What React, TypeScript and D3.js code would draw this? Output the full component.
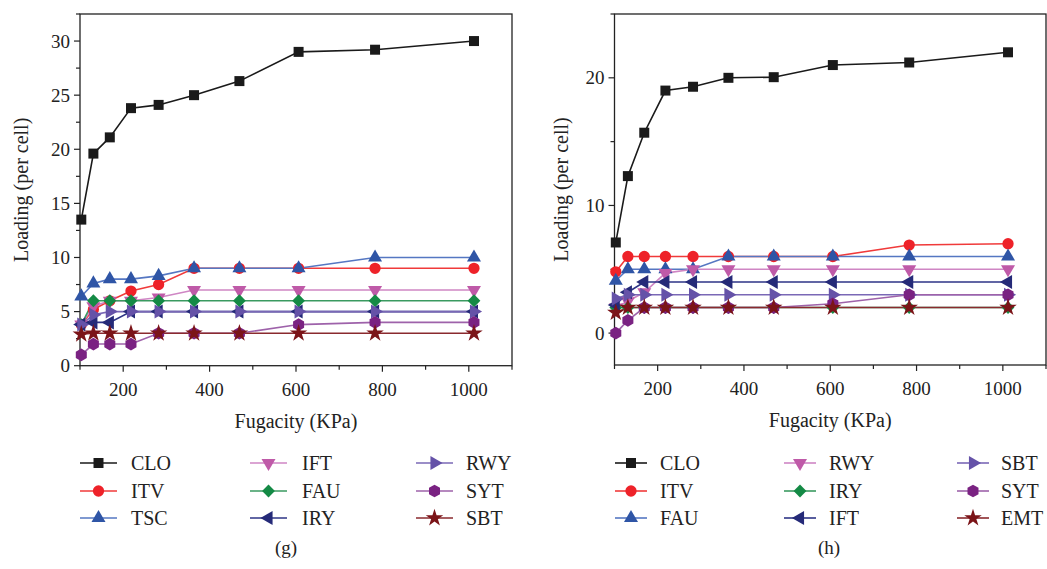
import React from "react";
import * as d3 from "d3";

const fugacity = [103, 131, 169, 218, 282, 364, 469, 606, 783, 1012];

// Panel (g)
const gCLO = [13.5, 19.6, 21.1, 23.8, 24.1, 25.0, 26.3, 29.0, 29.2, 30.0];
const gITV = [3.8, 5.2, 6.0, 6.9, 7.5, 9, 9, 9, 9, 9];
const gTSC = [6.4, 7.6, 8.0, 8.0, 8.3, 9, 9, 9, 10, 10];
const gIFT = [3.8, 5.5, 6.0, 6.0, 6.3, 7, 7, 7, 7, 7];
const gFAU = [3.8, 6, 6, 6, 6, 6, 6, 6, 6, 6];
const gIRY = [3.8, 4, 4, 5, 5, 5, 5, 5, 5, 5];
const gRWY = [3.8, 4.7, 5, 5, 5, 5, 5, 5, 5, 5];
const gSYT = [1, 2, 2, 2, 3, 3, 3, 3.8, 4, 4];
const gSBT = [2.9, 3, 3, 3, 3, 3, 3, 3, 3, 3];

// Panel (h)
const hCLO = [7.1, 12.3, 15.7, 19.0, 19.3, 20.0, 20.05, 21.0, 21.2, 22.0];
const hITV = [4.8, 6, 6, 6, 6, 6, 6, 6, 6.9, 7.0];
const hFAU = [4.1, 5, 5, 5, 5, 6, 6, 6, 6, 6];
const hRWY = [2.0, 2.5, 3.2, 4.7, 5, 5, 5, 5, 5, 5];
const hIRY = [2.0, 2, 2, 2, 2, 2, 2, 2, 2, 2];
const hIFT = [2.2, 3.2, 4, 4, 4, 4, 4, 4, 4, 4];
const hSBT = [2.7, 3, 3, 3, 3, 3, 3, 3, 3, 3];
const hSYT = [0, 1, 2, 2, 2, 2, 2, 2.3, 3, 3];
const hEMT = [1.6, 2, 2, 2, 2, 2, 2, 2, 2, 2];

const xTicks = [200, 400, 600, 800, 1000];
const gYTicks = [0, 5, 10, 15, 20, 25, 30];
const hYTicks = [0, 10, 20];

const hexagon = {
  draw(ctx: any, size: number) {
    const r = Math.sqrt((2 * size) / (3 * Math.sqrt(3)));
    for (let i = 0; i < 6; i++) {
      const a = (Math.PI / 3) * i + Math.PI / 6;
      const x = r * Math.cos(a), y = r * Math.sin(a);
      if (i === 0) ctx.moveTo(x, y); else ctx.lineTo(x, y);
    }
    ctx.closePath();
  },
};

type Style = { shape: string; marker: string; line: string };
const STY: Record<string, Style> = {
  black: { shape: "square", marker: "#1a1a1a", line: "#1a1a1a" },
  red: { shape: "circle", marker: "#ee2229", line: "#f03a3a" },
  blue: { shape: "up", marker: "#2f55a6", line: "#5577c2" },
  pink: { shape: "down", marker: "#bf5aa8", line: "#cf86c4" },
  green: { shape: "diamond", marker: "#148a45", line: "#3a9a60" },
  navy: { shape: "left", marker: "#252a78", line: "#2e3486" },
  purple: { shape: "right", marker: "#6552a8", line: "#7a68b6" },
  syt: { shape: "hex", marker: "#7a2282", line: "#9e62aa" },
  star: { shape: "star", marker: "#7b1418", line: "#8a2a2e" },
};

function symPath(shape: string) {
  switch (shape) {
    case "square": return { p: d3.symbol(d3.symbolSquare, 100)()!, r: 0 };
    case "circle": return { p: d3.symbol(d3.symbolCircle, 100)()!, r: 0 };
    case "up": return { p: d3.symbol(d3.symbolTriangle, 85)()!, r: 0 };
    case "down": return { p: d3.symbol(d3.symbolTriangle, 85)()!, r: 180 };
    case "left": return { p: d3.symbol(d3.symbolTriangle, 85)()!, r: -90 };
    case "right": return { p: d3.symbol(d3.symbolTriangle, 85)()!, r: 90 };
    case "diamond": return { p: d3.symbol(d3.symbolSquare, 82)()!, r: 45 };
    case "hex": return { p: d3.symbol(hexagon as any, 105)()!, r: 0 };
    default: return { p: d3.symbol(d3.symbolStar, 95)()!, r: 0 };
  }
}

type Series = { name: string; values: number[]; style: string };

const gSeries: Series[] = [
  { name: "CLO", values: gCLO, style: "black" },
  { name: "ITV", values: gITV, style: "red" },
  { name: "TSC", values: gTSC, style: "blue" },
  { name: "IFT", values: gIFT, style: "pink" },
  { name: "FAU", values: gFAU, style: "green" },
  { name: "IRY", values: gIRY, style: "navy" },
  { name: "RWY", values: gRWY, style: "purple" },
  { name: "SYT", values: gSYT, style: "syt" },
  { name: "SBT", values: gSBT, style: "star" },
];

const hSeries: Series[] = [
  { name: "CLO", values: hCLO, style: "black" },
  { name: "ITV", values: hITV, style: "red" },
  { name: "FAU", values: hFAU, style: "blue" },
  { name: "RWY", values: hRWY, style: "pink" },
  { name: "IRY", values: hIRY, style: "green" },
  { name: "IFT", values: hIFT, style: "navy" },
  { name: "SBT", values: hSBT, style: "purple" },
  { name: "SYT", values: hSYT, style: "syt" },
  { name: "EMT", values: hEMT, style: "star" },
];

const FONT = "'Liberation Serif', 'DejaVu Serif', serif";

function Marker({ x, y, style }: { x: number; y: number; style: string }) {
  const s = STY[style];
  const { p, r } = symPath(s.shape);
  return <path d={p} transform={`translate(${x},${y}) rotate(${r})`} fill={s.marker} />;
}

function Panel(props: {
  series: Series[]; left: number; right: number; top: number; bottom: number;
  yDomain: [number, number]; yTicks: number[]; yMinor: number[];
  titleX: number; legendX: number[]; legendTextX: number[]; legendLineW: number; label: string; labelX: number;
}) {
  const { series, left, right, top, bottom, yDomain, yTicks, yMinor } = props;
  const x = d3.scaleLinear().domain([100, 1100]).range([left, right]);
  const y = d3.scaleLinear().domain(yDomain).range([bottom, top]);
  const line = d3.line<number>().x((_, i) => x(fugacity[i])).y((v) => y(v));
  const xMinor = d3.range(100, 1101, 100).filter((v) => !xTicks.includes(v));
  const rows = [463, 491, 518];
  return (
    <g>
      <rect x={left} y={top} width={right - left} height={bottom - top} fill="none" stroke="#222" strokeWidth={1.3} />
      {xTicks.map((t) => (
        <g key={"xt" + t}>
          <line x1={x(t)} x2={x(t)} y1={bottom} y2={bottom + 6} stroke="#222" strokeWidth={1.2} />
          <text x={x(t)} y={bottom + 30} textAnchor="middle" fontSize={19} fontFamily={FONT} fill="#222">{t}</text>
        </g>
      ))}
      {xMinor.map((t) => (
        <line key={"xm" + t} x1={x(t)} x2={x(t)} y1={bottom} y2={bottom + 4} stroke="#222" strokeWidth={1.2} />
      ))}
      {yTicks.map((t) => (
        <g key={"yt" + t}>
          <line x1={left - 6} x2={left} y1={y(t)} y2={y(t)} stroke="#222" strokeWidth={1.2} />
          <text x={left - 10} y={y(t) + 6.5} textAnchor="end" fontSize={19} fontFamily={FONT} fill="#222">{t}</text>
        </g>
      ))}
      {yMinor.map((t) => (
        <line key={"ym" + t} x1={left - 4} x2={left} y1={y(t)} y2={y(t)} stroke="#222" strokeWidth={1.2} />
      ))}
      <text x={(left + right) / 2} y={bottom + 62} textAnchor="middle" fontSize={20} fontFamily={FONT} fill="#222">Fugacity (KPa)</text>
      <text transform={`translate(${props.titleX},${(top + bottom) / 2}) rotate(-90)`} textAnchor="middle" fontSize={20} fontFamily={FONT} fill="#222">Loading (per cell)</text>
      {series.map((s) => (
        <path key={"l" + s.name} d={line(s.values)!} fill="none" stroke={STY[s.style].line} strokeWidth={1.6} />
      ))}
      {series.map((s) => (
        <g key={"m" + s.name}>
          {s.values.map((v, i) => <Marker key={i} x={x(fugacity[i])} y={y(v)} style={s.style} />)}
        </g>
      ))}
      {series.map((s, i) => {
        const col = Math.floor(i / 3), row = i % 3;
        const lx = props.legendX[col], ty = rows[row];
        return (
          <g key={"lg" + s.name}>
            <line x1={lx} x2={lx + props.legendLineW} y1={ty} y2={ty} stroke={STY[s.style].line} strokeWidth={1.6} />
            <Marker x={lx + props.legendLineW / 2} y={ty} style={s.style} />
            <text x={props.legendTextX[col]} y={ty + 7} fontSize={20} fontFamily={FONT} fill="#222">{s.name}</text>
          </g>
        );
      })}
      <text x={props.labelX} y={554} textAnchor="middle" fontSize={19} fontFamily={FONT} fill="#222">{props.label}</text>
    </g>
  );
}

export default function App() {
  return (
    <svg width={1047} height={569} style={{ position: "absolute", left: 0, top: 0, background: "#fff" }}>
      <rect width={1047} height={569} fill="#fff" />
      <Panel series={gSeries} left={80} right={512} top={14} bottom={365.7}
        yDomain={[0, 32.5]} yTicks={gYTicks} yMinor={[2.5, 7.5, 12.5, 17.5, 22.5, 27.5, 32.5]}
        titleX={28} legendX={[80, 250, 416]} legendTextX={[131, 302, 466]} legendLineW={37}
        label="(g)" labelX={286} />
      <Panel series={hSeries} left={614.5} right={1046} top={14} bottom={365}
        yDomain={[-2.5, 25]} yTicks={hYTicks} yMinor={[5, 15, 25]}
        titleX={568} legendX={[615, 784, 957]} legendTextX={[660, 829, 1001]} legendLineW={32}
        label="(h)" labelX={829} />
    </svg>
  );
}
